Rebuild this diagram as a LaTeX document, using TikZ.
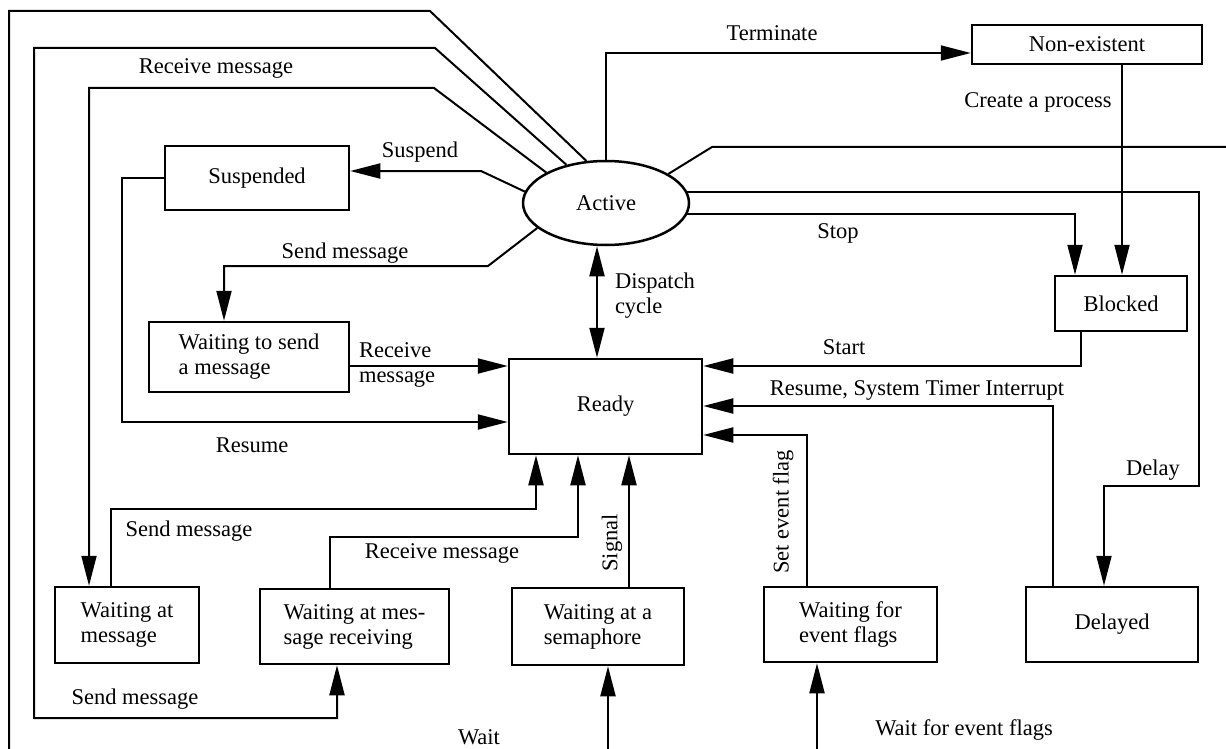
\documentclass[tikz,border=0pt]{standalone}
\usepackage{fontspec}
\setmainfont{Liberation Serif}
\usetikzlibrary{arrows.meta,shapes.geometric,positioning}

\begin{document}
\begin{tikzpicture}[
        x=1pt, y=-1pt,
        font=\fontsize{22.5}{25}\selectfont,
        line width=2pt,
        state/.style={rectangle, draw, line width=2.5pt, inner sep=0pt, align=left},
        running/.style={ellipse, draw, line width=2.5pt, inner sep=0pt, minimum width=166pt, minimum height=84pt},
        trans/.style={-{Triangle[length=30pt,width=15pt]}},
        both/.style={{Triangle[length=30pt,width=15pt]}-{Triangle[length=30pt,width=15pt]}},
        lbl/.style={inner sep=0pt, align=left}
    ]
        \useasboundingbox (0,0) rectangle (1226,749);

        % Zustaende
        \node[running] (active) at (606,203) {Active};
        \node[state, minimum width=230pt, minimum height=39pt] (nonex) at (1087,44.5) {Non-existent};
        \node[state, minimum width=184pt, minimum height=64pt] (susp) at (257,178) {Suspended};
        \node[state, minimum width=200pt, minimum height=70pt] (wsend) at (249,357) {Waiting to send\\a message};
        \node[state, minimum width=193pt, minimum height=95pt] (ready) at (605.5,406.5) {Ready};
        \node[state, minimum width=132pt, minimum height=55pt] (blocked) at (1121,303.5) {Blocked};

        % Wartezustaende unten
        \node[state, minimum width=144pt, minimum height=76pt] (wmsg) at (127,625) {Waiting at\\message};
        \node[state, minimum width=189pt, minimum height=75pt] (wrecv) at (354.5,626.5) {Waiting at mes-\\sage receiving};
        \node[state, minimum width=172pt, minimum height=77pt] (wsem) at (598,626.5) {Waiting at a\\semaphore};
        \node[state, minimum width=173pt, minimum height=75pt] (wflag) at (850.5,624.5) {Waiting for\\event flags};
        \node[state, minimum width=172pt, minimum height=75pt] (delayed) at (1112,624.5) {Delayed};

        % freie Enden am Rand
        \coordinate (outbottom) at (9,749);
        \coordinate (outright) at (1226,147);
        \coordinate (inwait) at (608,749);
        \coordinate (inflags) at (817,749);

        % Uebergaenge links
        \draw (active.115) -- (430,11) -- (9,11) -- (outbottom);
        \draw[trans] (active.136) -- (435,48) -- (34,48) -- (34,718) -- (337,718) -- (wrecv.south -| 337,0);
        \draw[trans] (active.153) -- (434,88) -- (89,88) -- (wmsg.north -| 89,0);
        \draw[trans] (active.172) -- (481,171) -- (susp.east |- 0,171);
        \draw[trans] (susp.west) -- (122,178) -- (122,422) -- (ready.west |- 0,422);
        \draw[trans] (active.200) -- (488,266) -- (224,266) -- (wsend.north -| 224,0);
        \draw[trans] (wsend.east |- 0,366) -- (ready.west |- 0,366);
        \draw[both] (active.south -| 597,0) -- (ready.north -| 597,0);

        % Uebergaenge rechts
        \draw[trans] (active.north) |- (nonex.west |- 0,53);
        \draw[trans] (nonex.south -| 1122,0) -- (blocked.north -| 1122,0);
        \draw (active.25) -- (712,147) -- (outright);
        \draw[trans] (active.8.5) -| (1199,486) -- (1104,486) -- (delayed.north -| 1104,0);
        \draw[trans] (active.-8) -| (blocked.north -| 1075,0);
        \draw[trans] (blocked.south -| 1081,0) -- (1081,366) -- (ready.east |- 0,366);
        \draw[trans] (delayed.north -| 1053,0) -- (1053,406) -- (ready.east |- 0,406);
        \draw[trans] (wflag.north -| 807,0) -- (807,435) -- (ready.east |- 0,435);

        % Uebergaenge unten
        \draw[trans] (wmsg.north -| 111,0) -- (111,509) -- (536,509) -- (ready.south -| 536,0);
        \draw[trans] (wrecv.north -| 330,0) -- (330,537) -- (578,537) -- (ready.south -| 578,0);
        \draw[trans] (wsem.north -| 629,0) -- (ready.south -| 629,0);
        \draw[trans] (inwait) -- (wsem.south -| inwait);
        \draw[trans] (inflags) -- (wflag.south -| inflags);

        % Beschriftungen
        \node[lbl] (lrecvtop) at (216,68) {Receive message};
        \node[lbl] (lsuspend) at (420,152) {Suspend};
        \node[lbl] (lsendtop) at (345,253) {Send message};
        \node[lbl, anchor=west] (lrecvmid) at (358,365) {Receive\\message};
        \node[lbl] (lresume) at (252,445) {Resume};
        \node[lbl, anchor=west] (ldispatch) at (614,296) {Dispatch\\cycle};
        \node[lbl] (lterm) at (772,33) {Terminate};
        \node[lbl] (lcreate) at (1038,102) {Create a process};
        \node[lbl] (lstop) at (838,233) {Stop};
        \node[lbl] (lstart) at (844,347) {Start};
        \node[lbl] (ltimer) at (917,390) {Resume, System Timer Interrupt};
        \node[lbl] (ldelay) at (1153,470) {Delay};
        \node[lbl, rotate=90] (lsetflag) at (783,512) {Set event flag};
        \node[lbl, rotate=90] (lsignal) at (612,543) {Signal};
        \node[lbl] (lsendbot) at (189,531) {Send message};
        \node[lbl] (lrecvbot) at (442,553) {Receive message};
        \node[lbl] (lsendlow) at (135,699) {Send message};
        \node[lbl] (lwait) at (479,737) {Wait};
        \node[lbl] (lwaitflags) at (964,730) {Wait for event flags};

    \end{tikzpicture}
\end{document}
